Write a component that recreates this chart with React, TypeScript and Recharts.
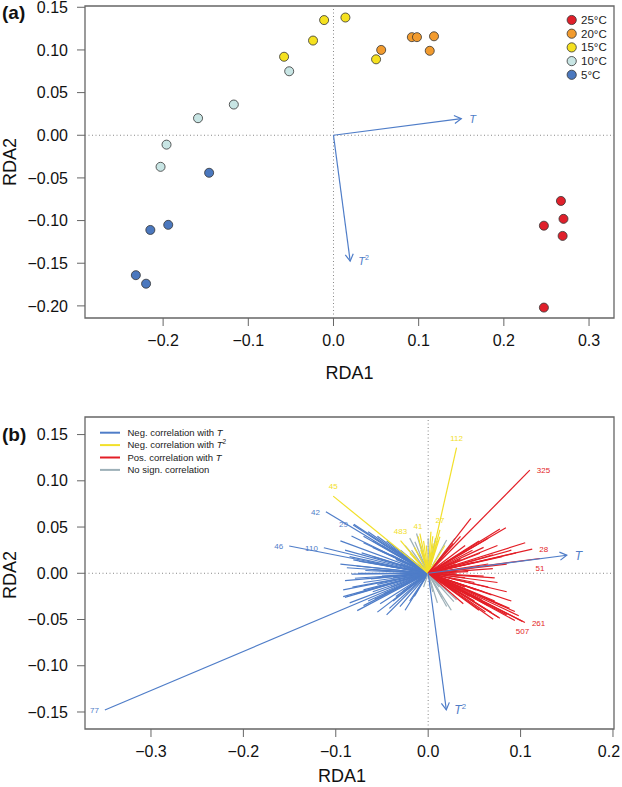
import React from 'react';
import { ComposedChart, Scatter, XAxis, YAxis, ReferenceLine, ReferenceArea } from 'recharts';

// ---------- Panel (a) data ----------
const TEMPS = ['25°C', '20°C', '15°C', '10°C', '5°C'];
const TEMP_COLORS = ['#E0202B', '#F29B2E', '#F5E11F', '#C8E5E4', '#4B78BE'];
const PTS_25 = [
  { x: 0.267, y: -0.077 }, { x: 0.270, y: -0.098 }, { x: 0.247, y: -0.106 },
  { x: 0.269, y: -0.118 }, { x: 0.247, y: -0.202 },
];
const PTS_20 = [
  { x: 0.056, y: 0.100 }, { x: 0.092, y: 0.115 }, { x: 0.098, y: 0.115 },
  { x: 0.118, y: 0.116 }, { x: 0.113, y: 0.099 },
];
const PTS_15 = [
  { x: -0.058, y: 0.092 }, { x: -0.024, y: 0.111 }, { x: -0.011, y: 0.135 },
  { x: 0.014, y: 0.138 }, { x: 0.050, y: 0.089 },
];
const PTS_10 = [
  { x: -0.052, y: 0.075 }, { x: -0.117, y: 0.036 }, { x: -0.159, y: 0.020 },
  { x: -0.196, y: -0.011 }, { x: -0.203, y: -0.037 },
];
const PTS_5 = [
  { x: -0.146, y: -0.044 }, { x: -0.215, y: -0.111 }, { x: -0.194, y: -0.105 },
  { x: -0.232, y: -0.164 }, { x: -0.220, y: -0.174 },
];
const TEMP_POINTS = [PTS_25, PTS_20, PTS_15, PTS_10, PTS_5];

const ENV_ARROWS = [
  { name: 'T', x: 0.150, y: 0.0195, sup: '' },
  { name: 'T', x: 0.0196, y: -0.1476, sup: '2' },
];

const A_X_DOMAIN = [-0.2917, 0.3293];
const A_Y_DOMAIN = [-0.2142, 0.1515];
const A_X_TICKS = [-0.2, -0.1, 0.0, 0.1, 0.2, 0.3];
const A_Y_TICKS = [-0.20, -0.15, -0.10, -0.05, 0.00, 0.05, 0.10, 0.15];

// ---------- Panel (b) data ----------
const B_X_DOMAIN = [-0.3714, 0.2011];
const B_Y_DOMAIN = [-0.1684, 0.169];
const B_X_TICKS = [-0.3, -0.2, -0.1, 0.0, 0.1, 0.2];
const B_Y_TICKS = [-0.15, -0.10, -0.05, 0.00, 0.05, 0.10, 0.15];

const BLUE_LINES = [
  [-0.3499, -0.1478], [-0.1504, 0.0295], [-0.1129, 0.0276], [-0.1107, 0.0665], [-0.0804, 0.0529],
  [-0.0812, 0.0521], [-0.0830, 0.0403], [-0.0650, 0.0450], [-0.0550, 0.0400], [-0.0700, 0.0330],
  [-0.0600, 0.0280], [-0.0450, 0.0350], [-0.0500, 0.0240], [-0.0850, 0.0180], [-0.0810, 0.0144],
  [-0.0775, 0.0079], [-0.0650, 0.0120], [-0.0400, 0.0200], [-0.0300, 0.0250], [-0.0350, 0.0150],
  [-0.0829, -0.0010], [-0.0758, 0.0000], [-0.0793, -0.0054], [-0.0600, 0.0040], [-0.0500, -0.0030],
  [-0.0700, -0.0100], [-0.0550, -0.0120], [-0.0920, -0.0252], [-0.0902, -0.0260], [-0.0768, -0.0404],
  [-0.0306, -0.0360], [-0.0520, -0.0330], [-0.0650, -0.0300], [-0.0450, -0.0450], [-0.0350, -0.0250],
  [-0.0600, -0.0200], [-0.0250, -0.0400], [-0.0200, -0.0300], [-0.0400, -0.0150], [-0.0720, 0.0220],
  [-0.0880, 0.0060], [-0.0450, 0.0080], [-0.0380, -0.0050], [-0.0700, -0.0180], [-0.0820, -0.0150],
  [-0.0950, 0.0350], [-0.0700, 0.0400], [-0.0900, 0.0250], [-0.0600, 0.0180], [-0.0750, 0.0130],
  [-0.0950, 0.0100], [-0.0680, 0.0030], [-0.0900, -0.0080], [-0.0620, -0.0060], [-0.0780, -0.0220],
  [-0.0850, -0.0320], [-0.0580, -0.0280], [-0.0480, -0.0220], [-0.0700, -0.0350], [-0.0380, -0.0300],
  [-0.0420, -0.0380], [-0.0550, -0.0420], [-0.0280, -0.0200], [-0.0300, 0.0100], [-0.0500, 0.0300],
  [-0.0400, 0.0280], [-0.0600, 0.0350], [-0.0920, -0.0180], [-0.0150, -0.0250],
];
const GRAY_LINES = [
  [-0.0144, 0.0340], [0.0200, 0.0360], [0.0289, 0.0378], [-0.0126, 0.0430], [-0.0250, 0.0300],
  [0.0000, 0.0380], [0.0160, -0.0108], [0.0307, -0.0288], [0.0200, -0.0360], [0.0278, -0.0306],
  [0.0150, -0.0270], [0.0050, -0.0200], [-0.0050, -0.0150], [-0.0100, 0.0200], [-0.0180, 0.0250],
  [0.0100, -0.0320], [0.0350, -0.0200], [0.0250, -0.0400], [-0.0080, 0.0300], [0.0080, 0.0380],
  [-0.0200, 0.0380], [0.0120, -0.0150],
];
const YELLOW_LINES = [
  [-0.1028, 0.0834], [-0.0299, 0.0352], [-0.0110, 0.0400], [0.0127, 0.0470], [0.0307, 0.1360],
  [-0.0090, 0.0430], [0.0127, 0.0395], [0.0054, 0.0324], [-0.0198, 0.0216], [-0.0050, 0.0350],
  [0.0030, 0.0450], [0.0080, 0.0280], [-0.0150, 0.0280], [0.0180, 0.0300], [-0.0020, 0.0300],
  [0.0100, 0.0350], [-0.0080, 0.0250], [0.0050, 0.0400],
];
const RED_LINES = [
  [0.1100, 0.1115], [0.0462, 0.0593], [0.0776, 0.0478], [0.0841, 0.0492], [0.1050, 0.0330],
  [0.1126, 0.0262], [0.1210, 0.0160], [0.0560, 0.0216], [0.0270, 0.0324], [0.0350, 0.0400],
  [0.0400, 0.0300], [0.0600, 0.0280], [0.0700, 0.0200], [0.0800, 0.0180], [0.0650, 0.0100],
  [0.0500, 0.0120], [0.0450, 0.0050], [0.0433, 0.0017], [0.0300, 0.0000], [0.0600, -0.0030],
  [0.0500, -0.0100], [0.0400, -0.0150], [0.0578, -0.0288], [0.0686, -0.0425], [0.0686, -0.0234],
  [0.0776, -0.0486], [0.0758, -0.0475], [0.0704, -0.0496], [0.0938, -0.0511], [0.0938, -0.0414],
  [0.1047, -0.0533], [0.1020, -0.0520], [0.0850, -0.0450], [0.0650, -0.0350], [0.0450, -0.0250],
  [0.0300, -0.0200], [0.0550, -0.0400], [0.0800, -0.0350], [0.0900, 0.0250], [0.0750, 0.0300],
  [0.0550, 0.0350], [0.0650, 0.0380], [0.0850, 0.0100], [0.0700, 0.0050], [0.0550, 0.0070],
  [0.0750, -0.0100], [0.0650, -0.0150], [0.0850, -0.0200], [0.0900, -0.0300], [0.0720, -0.0300],
  [0.0600, -0.0200], [0.0500, -0.0300], [0.0880, -0.0380], [0.0980, -0.0460], [0.0620, -0.0420],
  [0.0520, -0.0180], [0.0400, -0.0050], [0.0350, 0.0150], [0.0480, 0.0250], [0.0950, 0.0220],
  [0.0380, -0.0330], [0.0720, -0.0050], [0.0300, 0.0100],
];

const LINE_LABELS = [
  { id: '77', group: 'blue', x: -0.3499, y: -0.1478, pos: 'left' },
  { id: '46', group: 'blue', x: -0.1504, y: 0.0295, pos: 'left' },
  { id: '110', group: 'blue', x: -0.1129, y: 0.0276, pos: 'left' },
  { id: '42', group: 'blue', x: -0.1107, y: 0.0665, pos: 'left' },
  { id: '29', group: 'blue', x: -0.0804, y: 0.0529, pos: 'left' },
  { id: '45', group: 'yellow', x: -0.1028, y: 0.0834, pos: 'above' },
  { id: '483', group: 'yellow', x: -0.0299, y: 0.0352, pos: 'above' },
  { id: '41', group: 'yellow', x: -0.0110, y: 0.0400, pos: 'above' },
  { id: '27', group: 'yellow', x: 0.0127, y: 0.0470, pos: 'above' },
  { id: '112', group: 'yellow', x: 0.0307, y: 0.1360, pos: 'above' },
  { id: '325', group: 'red', x: 0.1100, y: 0.1115, pos: 'right' },
  { id: '28', group: 'red', x: 0.1126, y: 0.0262, pos: 'right' },
  { id: '51', group: 'red', x: 0.1210, y: 0.0160, pos: 'below' },
  { id: '261', group: 'red', x: 0.1047, y: -0.0533, pos: 'right' },
  { id: '507', group: 'red', x: 0.1020, y: -0.0520, pos: 'below' },
];

const GROUP_COLORS: Record<string, string> = {
  blue: '#4F7DC8', yellow: '#F2E02A', red: '#E31E26', gray: '#9DB0B8',
};
const LEGEND_B = [
  { group: 'blue', text: 'Neg. correlation with ', it: 'T', sup: '' },
  { group: 'yellow', text: 'Neg. correlation with ', it: 'T', sup: '2' },
  { group: 'red', text: 'Pos. correlation with ', it: 'T', sup: '' },
  { group: 'gray', text: 'No sign. correlation', it: '', sup: '' },
];

const FONT = '"Liberation Sans", Arial, Helvetica, sans-serif';
const ARROW_COLOR = '#4F7DC8';
const AXIS_COLOR = '#666';

const fmt = (d: number) => (v: number) => {
  const s = Math.abs(v).toFixed(d);
  return v < -1e-9 ? '\u2212' + s : s;
};

const makeArrowShape = (name: string, sup: string, fs: number) => (p: any) => {
  const { x1, y1, x2, y2 } = p;
  const ang = Math.atan2(y2 - y1, x2 - x1);
  const L = 8;
  const a = Math.PI / 6;
  const ax = x2 - L * Math.cos(ang - a);
  const ay = y2 - L * Math.sin(ang - a);
  const bx = x2 - L * Math.cos(ang + a);
  const by = y2 - L * Math.sin(ang + a);
  return (
    <g>
      <line x1={x1} y1={y1} x2={x2} y2={y2} stroke={ARROW_COLOR} strokeWidth={1.2} />
      <polyline points={`${ax},${ay} ${x2},${y2} ${bx},${by}`} fill="none" stroke={ARROW_COLOR} strokeWidth={1.2} />
      <text x={x2 + 8} y={y2 + fs * 0.36} fill={ARROW_COLOR} fontSize={fs} fontStyle="italic" fontFamily={FONT}>
        {name}
        {sup ? <tspan dy={-fs * 0.45} fontSize={fs * 0.65} fontStyle="normal">{sup}</tspan> : null}
      </text>
    </g>
  );
};

const LineLabel = (props: any) => {
  const { cx, cy, payload } = props;
  const c = GROUP_COLORS[payload.group];
  let x = cx, y = cy + 3, anchor: any = 'middle';
  if (payload.pos === 'left') { x = cx - 6; anchor = 'end'; }
  if (payload.pos === 'right') { x = cx + 7; anchor = 'start'; }
  if (payload.pos === 'above') { y = cy - 7; }
  if (payload.pos === 'below') { y = cy + 13; }
  return (
    <text x={x} y={y} textAnchor={anchor} fill={c} fontSize={8} fontFamily={FONT}>{payload.id}</text>
  );
};

const tickStyle = { fill: '#111', fontSize: 16, fontFamily: FONT };

// x tick for panel (b): keeps the last label inside the picture edge
const BXTick = (props: any) => {
  const { x, y, payload } = props;
  const last = payload.value === B_X_TICKS[B_X_TICKS.length - 1];
  return (
    <text x={last ? x - 4 : x} y={y} dy="0.71em" textAnchor="middle" fill="#111" fontSize={16} fontFamily={FONT}>
      {fmt(1)(payload.value)}
    </text>
  );
};

export default function App() {
  return (
    <div style={{ position: 'absolute', left: 0, top: 0, width: 622, height: 787, background: '#fff' }}>
      {/* Panel (a) */}
      <div style={{ position: 'absolute', left: 0, top: 0 }}>
        <ComposedChart width={622} height={395} margin={{ top: 6, right: 8, bottom: 0, left: 0 }}>
          <XAxis type="number" dataKey="x" domain={A_X_DOMAIN} allowDataOverflow ticks={A_X_TICKS}
            tickFormatter={fmt(1)} tick={tickStyle} tickSize={8} tickMargin={9} height={77}
            axisLine={false} tickLine={{ stroke: AXIS_COLOR }} interval={0} />
          <YAxis type="number" dataKey="y" domain={A_Y_DOMAIN} allowDataOverflow ticks={A_Y_TICKS}
            tickFormatter={fmt(2)} tick={tickStyle} tickSize={8} tickMargin={9} width={85}
            axisLine={false} tickLine={{ stroke: AXIS_COLOR }} interval={0} />
          <ReferenceArea x1={A_X_DOMAIN[0]} x2={A_X_DOMAIN[1]} y1={A_Y_DOMAIN[0]} y2={A_Y_DOMAIN[1]}
            fill="none" fillOpacity={0} stroke={AXIS_COLOR} strokeWidth={1.3} ifOverflow="visible" />
          <ReferenceLine x={0} stroke="#888" strokeDasharray="1 2.5" strokeWidth={1} />
          <ReferenceLine y={0} stroke="#888" strokeDasharray="1 2.5" strokeWidth={1} />
          {ENV_ARROWS.map((a, i) => (
            <ReferenceLine key={'aa' + i} segment={[{ x: 0, y: 0 }, { x: a.x, y: a.y }]} ifOverflow="visible"
              shape={makeArrowShape(a.name, a.sup, 11)} />
          ))}
          {TEMP_POINTS.map((pts, i) => (
            <Scatter key={TEMPS[i]} name={TEMPS[i]} data={pts} fill={TEMP_COLORS[i]} stroke="#333"
              strokeWidth={0.8} shape="circle" isAnimationActive={false} />
          ))}
        </ComposedChart>
      </div>

      {/* Panel (b) */}
      <div style={{ position: 'absolute', left: 0, top: 395 }}>
        <ComposedChart width={622} height={392} margin={{ top: 22, right: 8, bottom: 0, left: 0 }}>
          <XAxis type="number" dataKey="x" domain={B_X_DOMAIN} allowDataOverflow ticks={B_X_TICKS}
            tick={<BXTick />} tickSize={8} tickMargin={9} height={58}
            axisLine={false} tickLine={{ stroke: AXIS_COLOR }} interval={0} />
          <YAxis type="number" dataKey="y" domain={B_Y_DOMAIN} allowDataOverflow ticks={B_Y_TICKS}
            tickFormatter={fmt(2)} tick={tickStyle} tickSize={8} tickMargin={9} width={85}
            axisLine={false} tickLine={{ stroke: AXIS_COLOR }} interval={0} />
          <ReferenceArea x1={B_X_DOMAIN[0]} x2={B_X_DOMAIN[1]} y1={B_Y_DOMAIN[0]} y2={B_Y_DOMAIN[1]}
            fill="none" fillOpacity={0} stroke={AXIS_COLOR} strokeWidth={1.3} ifOverflow="visible" />
          <ReferenceLine x={0} stroke="#888" strokeDasharray="1 2.5" strokeWidth={1} />
          <ReferenceLine y={0} stroke="#888" strokeDasharray="1 2.5" strokeWidth={1} />
          {BLUE_LINES.map((e, i) => (
            <ReferenceLine key={'b' + i} segment={[{ x: 0, y: 0 }, { x: e[0], y: e[1] }]} ifOverflow="visible"
              stroke={GROUP_COLORS.blue} strokeWidth={1.2} />
          ))}
          {GRAY_LINES.map((e, i) => (
            <ReferenceLine key={'g' + i} segment={[{ x: 0, y: 0 }, { x: e[0], y: e[1] }]} ifOverflow="visible"
              stroke={GROUP_COLORS.gray} strokeWidth={1.2} />
          ))}
          {YELLOW_LINES.map((e, i) => (
            <ReferenceLine key={'y' + i} segment={[{ x: 0, y: 0 }, { x: e[0], y: e[1] }]} ifOverflow="visible"
              stroke={GROUP_COLORS.yellow} strokeWidth={1.2} />
          ))}
          {RED_LINES.map((e, i) => (
            <ReferenceLine key={'r' + i} segment={[{ x: 0, y: 0 }, { x: e[0], y: e[1] }]} ifOverflow="visible"
              stroke={GROUP_COLORS.red} strokeWidth={1.2} />
          ))}
          {ENV_ARROWS.map((a, i) => (
            <ReferenceLine key={'ba' + i} segment={[{ x: 0, y: 0 }, { x: a.x, y: a.y }]} ifOverflow="visible"
              shape={makeArrowShape(a.name, a.sup, 12)} />
          ))}
          <Scatter data={LINE_LABELS} shape={LineLabel} isAnimationActive={false} />
        </ComposedChart>
      </div>

      {/* Titles and legends */}
      <svg width={622} height={787} style={{ position: 'absolute', left: 0, top: 0, pointerEvents: 'none' }}
        fontFamily={FONT}>
        <text x={2} y={19} fontSize={19} fontWeight="bold" fill="#111">(a)</text>
        <text x={2} y={441} fontSize={19} fontWeight="bold" fill="#111">(b)</text>
        <text x={349.5} y={379} fontSize={18} textAnchor="middle" fill="#111">RDA1</text>
        <text x={342} y={782} fontSize={18} textAnchor="middle" fill="#111">RDA1</text>
        <text transform="translate(16,162) rotate(-90)" fontSize={18} textAnchor="middle" fill="#111">RDA2</text>
        <text transform="translate(16,575) rotate(-90)" fontSize={18} textAnchor="middle" fill="#111">RDA2</text>
        {TEMPS.map((t, i) => (
          <g key={t}>
            <circle cx={571.7} cy={20 + i * 13.7} r={4.6} fill={TEMP_COLORS[i]} stroke="#333" strokeWidth={0.8} />
            <text x={581} y={24 + i * 13.7} fontSize={11.5} fill="#222">{t}</text>
          </g>
        ))}
        {LEGEND_B.map((l, i) => (
          <g key={i}>
            <line x1={100} x2={120} y1={432.7 + i * 12.4} y2={432.7 + i * 12.4}
              stroke={GROUP_COLORS[l.group]} strokeWidth={2} />
            <text x={127.5} y={436 + i * 12.4} fontSize={9.5} fill="#222">
              {l.text}
              {l.it ? <tspan fontStyle="italic">{l.it}</tspan> : null}
              {l.sup ? <tspan dy={-4} fontSize={6.5}>{l.sup}</tspan> : null}
            </text>
          </g>
        ))}
      </svg>
    </div>
  );
}
